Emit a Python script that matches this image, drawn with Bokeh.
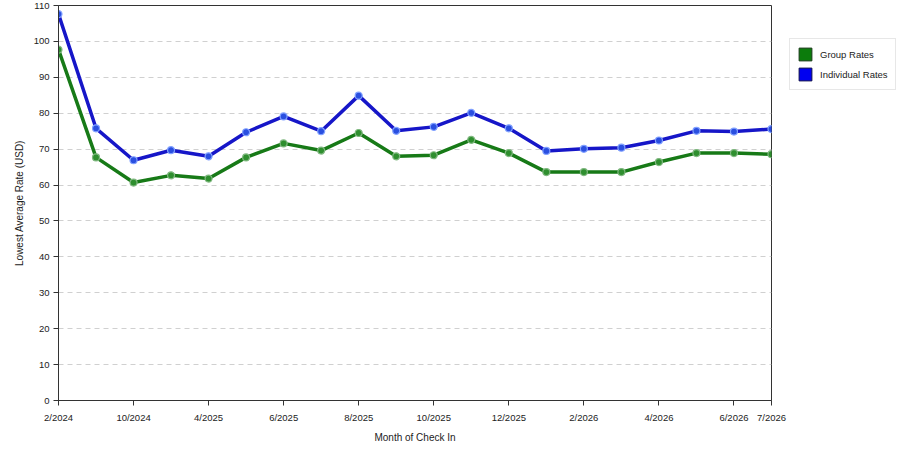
from bokeh.plotting import figure
from bokeh.layouts import row
from bokeh.models import Range1d, FixedTicker, Legend, LegendItem, ColumnDataSource
from bokeh.embed import file_html
from bokeh.resources import INLINE

months = ["2/2024", "6/2024", "10/2024", "1/2025", "4/2025", "5/2025", "6/2025", "7/2025",
          "8/2025", "9/2025", "10/2025", "11/2025", "12/2025", "1/2026", "2/2026", "3/2026",
          "4/2026", "5/2026", "6/2026", "7/2026"]
shown_labels = ["2/2024", "10/2024", "4/2025", "6/2025", "8/2025", "10/2025", "12/2025",
                "2/2026", "4/2026", "6/2026", "7/2026"]
group_rates = [97.7, 67.7, 60.7, 62.7, 61.8, 67.7, 71.6, 69.6, 74.5, 68.0,
               68.3, 72.6, 68.9, 63.6, 63.6, 63.6, 66.4, 68.9, 68.9, 68.6]
individual_rates = [107.6, 75.8, 66.9, 69.7, 68.0, 74.7, 79.1, 75.0, 84.9, 75.1,
                    76.2, 80.1, 75.8, 69.5, 70.1, 70.4, 72.4, 75.1, 74.9, 75.6]
series_names = ["Group Rates", "Individual Rates"]

FONT = "Liberation Sans"
idx = list(range(len(months)))
tick_idx = [months.index(m) for m in shown_labels]

fig = figure(width=788, height=450, output_backend="svg", toolbar_location=None,
             x_range=Range1d(0, len(months) - 1), y_range=Range1d(0, 110),
             min_border_left=58, min_border_right=17, min_border_top=5, min_border_bottom=50)
fig.background_fill_color = "white"
fig.border_fill_color = "white"
fig.outline_line_color = "#333333"
fig.outline_line_width = 1

fig.xaxis.ticker = FixedTicker(ticks=tick_idx)
fig.xaxis.major_label_overrides = {i: months[i] for i in tick_idx}
fig.yaxis.ticker = FixedTicker(ticks=list(range(0, 111, 10)))
for ax in (fig.xaxis, fig.yaxis):
    ax.axis_line_color = "#333333"
    ax.major_tick_line_color = "#333333"
    ax.major_tick_out = 5
    ax.major_tick_in = 0
    ax.minor_tick_out = 0
    ax.minor_tick_in = 0
    ax.major_label_text_font = FONT
    ax.major_label_text_font_size = "9.5px"
    ax.major_label_text_color = "#222222"
    ax.axis_label_text_font = FONT
    ax.axis_label_text_font_size = "10px"
    ax.axis_label_text_font_style = "normal"
    ax.axis_label_text_color = "#222222"
fig.xaxis.axis_label = "Month of Check In"
fig.yaxis.axis_label = "Lowest Average Rate (USD)"
fig.xaxis.major_label_standoff = 6
fig.yaxis.major_label_standoff = 4
fig.xaxis.axis_label_standoff = 6
fig.yaxis.axis_label_standoff = 6

fig.xgrid.grid_line_color = None
fig.ygrid.grid_line_color = "#d0d0d0"
fig.ygrid.grid_line_dash = "5 4"

src = ColumnDataSource(dict(x=idx, g=group_rates, i=individual_rates))
GREEN = "#177a17"
BLUE = "#1616c8"
fig.line("x", "g", source=src, line_color=GREEN, line_width=3.5)
fig.scatter("x", "g", source=src, size=7, fill_color="#2f8f2f", line_color="#80b880", line_width=1.2)
fig.line("x", "i", source=src, line_color=BLUE, line_width=3.5)
fig.scatter("x", "i", source=src, size=7, fill_color="#2a4fe0", line_color="#80a0ff", line_width=1.2)

# legend panel to the right of the chart
leg = figure(width=112, height=450, output_backend="svg", toolbar_location=None,
             x_range=Range1d(0, 1), y_range=Range1d(0, 1),
             min_border_left=0, min_border_right=0, min_border_top=0, min_border_bottom=0,
             x_axis_type=None, y_axis_type=None)
leg.outline_line_color = None
leg.xgrid.grid_line_color = None
leg.ygrid.grid_line_color = None
leg.background_fill_color = "white"
leg.border_fill_color = "white"
off = ColumnDataSource(dict(l=[-10], r=[-9], b=[-10], t=[-9]))
rg = leg.quad(left="l", right="r", bottom="b", top="t", source=off,
              fill_color="#0c7c0c", line_color="#1a3a1a")
rb = leg.quad(left="l", right="r", bottom="b", top="t", source=off,
              fill_color="#0000f0", line_color="#10104a")

legend = Legend(items=[LegendItem(label=series_names[0], renderers=[rg]),
                       LegendItem(label=series_names[1], renderers=[rb])],
                location=(1, 310))
legend.label_text_font = FONT
legend.label_text_font_size = "9.5px"
legend.label_text_color = "#222222"
legend.border_line_color = "#d0d0d0"
legend.border_line_width = 1
legend.glyph_width = 16
legend.glyph_height = 16
legend.label_height = 16
legend.spacing = 4
legend.padding = 7
legend.label_standoff = 7
legend.margin = 0
legend.background_fill_color = "white"
leg.add_layout(legend, "center")

p = row(fig, leg)
open("out.html", "w").write(file_html(p, INLINE))
